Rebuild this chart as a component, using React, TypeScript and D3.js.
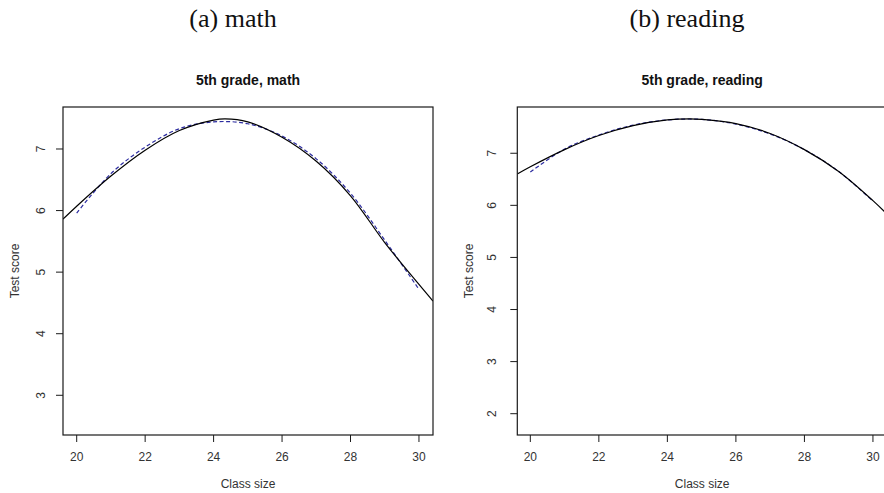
import React from "react";
import * as d3 from "d3";

// ---- data ----
const mathClassSize = [19.6, 20, 21, 22, 23, 24, 24.34, 25, 26, 27, 28, 29, 30, 30.41];
const mathFit = [5.86, 6.07, 6.56, 6.98, 7.3, 7.47, 7.49, 7.44, 7.19, 6.8, 6.24, 5.48, 4.8, 4.53];
const mathSmoothClassSize = [20, 21, 22, 23, 24, 25, 26, 27, 28, 29, 30];
const mathSmooth = [5.96, 6.6, 7.03, 7.33, 7.44, 7.41, 7.21, 6.84, 6.28, 5.52, 4.72];

const readingClassSize = [19.62, 20, 21, 22, 23, 24, 24.65, 25, 26, 27, 28, 29, 30, 30.41];
const readingFit = [6.6, 6.74, 7.07, 7.34, 7.53, 7.64, 7.66, 7.65, 7.57, 7.38, 7.07, 6.65, 6.09, 5.83];
const readingSmoothClassSize = [20, 21, 22, 23, 24, 25, 26, 27, 28, 29, 30];
const readingSmooth = [6.64, 7.08, 7.35, 7.54, 7.64, 7.65, 7.56, 7.37, 7.07, 6.65, 6.08];

const xTicks = [20, 22, 24, 26, 28, 30];
const mathYTicks = [3, 4, 5, 6, 7];
const readingYTicks = [2, 3, 4, 5, 6, 7];

type PanelProps = {
  id: string;
  caption: string;
  captionX: number;
  title: string;
  left: number;
  right: number;
  xDomain: [number, number];
  yDomain: [number, number];
  yTicks: number[];
  yLabelOffset: number;
  fitX: number[];
  fitY: number[];
  smX: number[];
  smY: number[];
};

const TOP = 107;
const BOTTOM = 435;
const SANS = "'Liberation Sans', Arial, Helvetica, sans-serif";

function Panel(p: PanelProps) {
  const x = d3.scaleLinear().domain(p.xDomain).range([p.left, p.right]);
  const y = d3.scaleLinear().domain(p.yDomain).range([BOTTOM, TOP]);
  const line = d3
    .line<[number, number]>()
    .x((d) => x(d[0]))
    .y((d) => y(d[1]))
    .curve(d3.curveCatmullRom.alpha(0.5));
  const fit = line(p.fitX.map((v, i) => [v, p.fitY[i]] as [number, number])) || "";
  const sm = line(p.smX.map((v, i) => [v, p.smY[i]] as [number, number])) || "";
  const cx = (p.left + p.right) / 2;
  const cy = (TOP + BOTTOM) / 2;
  return (
    <g>
      <defs>
        <clipPath id={p.id}>
          <rect x={p.left} y={TOP} width={p.right - p.left} height={BOTTOM - TOP} />
        </clipPath>
      </defs>
      <text
        x={p.captionX}
        y={27}
        textAnchor="middle"
        fontFamily="'Liberation Serif', 'Times New Roman', serif"
        fontSize={26}
        fill="#111"
      >
        {p.caption}
      </text>
      <text x={cx} y={85} textAnchor="middle" fontFamily={SANS} fontWeight="bold" fontSize={14} fill="#111">
        {p.title}
      </text>
      <g clipPath={`url(#${p.id})`}>
        <path d={sm} fill="none" stroke="#2c2ca0" strokeWidth={1.2} strokeDasharray="4,2.5" />
        <path d={fit} fill="none" stroke="#000" strokeWidth={1.2} />
      </g>
      <rect
        x={p.left}
        y={TOP}
        width={p.right - p.left}
        height={BOTTOM - TOP}
        fill="none"
        stroke="#1a1a1a"
        strokeWidth={1.2}
      />
      {xTicks.map((t) => (
        <g key={"x" + t}>
          <line x1={x(t)} x2={x(t)} y1={BOTTOM} y2={BOTTOM + 7} stroke="#1a1a1a" strokeWidth={1} />
          <text x={x(t)} y={461} textAnchor="middle" fontFamily={SANS} fontSize={12} fill="#333">
            {t}
          </text>
        </g>
      ))}
      {p.yTicks.map((t) => (
        <g key={"y" + t}>
          <line x1={p.left - 7} x2={p.left} y1={y(t)} y2={y(t)} stroke="#1a1a1a" strokeWidth={1} />
          <text
            transform={`translate(${p.left - p.yLabelOffset},${y(t)}) rotate(-90)`}
            textAnchor="middle"
            dominantBaseline="central"
            fontFamily={SANS}
            fontSize={12}
            fill="#333"
          >
            {t}
          </text>
        </g>
      ))}
      <text x={cx} y={487.5} textAnchor="middle" fontFamily={SANS} fontSize={12} fill="#333">
        Class size
      </text>
      <text
        transform={`translate(${p.left - 48},${cy}) rotate(-90)`}
        textAnchor="middle"
        dominantBaseline="central"
        fontFamily={SANS}
        fontSize={12}
        fill="#333"
      >
        Test score
      </text>
    </g>
  );
}

export default function App() {
  return (
    <svg
      width={884}
      height={493}
      viewBox="0 0 884 493"
      style={{ position: "absolute", left: 0, top: 0, display: "block", background: "#fff" }}
    >
      <rect x={0} y={0} width={884} height={493} fill="#fff" />
      <Panel
        id="clipMath"
        caption="(a) math"
        captionX={233}
        title="5th grade, math"
        left={63}
        right={433}
        xDomain={[19.6, 30.41]}
        yDomain={[2.355, 7.682]}
        yTicks={mathYTicks}
        yLabelOffset={22}
        fitX={mathClassSize}
        fitY={mathFit}
        smX={mathSmoothClassSize}
        smY={mathSmooth}
      />
      <Panel
        id="clipReading"
        caption="(b) reading"
        captionX={687}
        title="5th grade, reading"
        left={517.3}
        right={887}
        xDomain={[19.62, 30.41]}
        yDomain={[1.591, 7.888]}
        yTicks={readingYTicks}
        yLabelOffset={25}
        fitX={readingClassSize}
        fitY={readingFit}
        smX={readingSmoothClassSize}
        smY={readingSmooth}
      />
    </svg>
  );
}
